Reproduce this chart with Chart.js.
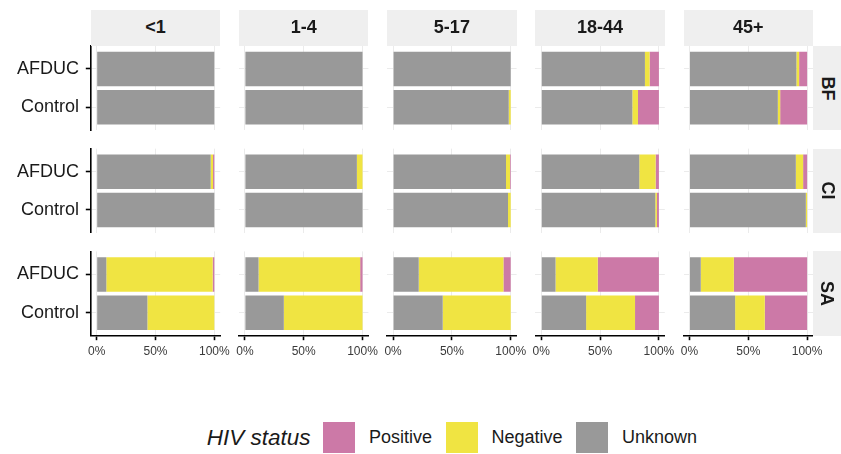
<!DOCTYPE html>
<html>
<head>
<meta charset="utf-8">
<script src="https://cdn.jsdelivr.net/npm/chart.js@4.4.1/dist/chart.umd.min.js"></script>
<style>
  html, body { margin:0; padding:0; background:#fff; }
  #wrap { position:relative; width:841px; height:454px; overflow:hidden; font-family:"Liberation Sans", Arial, Helvetica, sans-serif; }
  #wrap canvas { position:absolute; }
  .strip { position:absolute; background:#efefef; color:#1a1a1a; font-weight:bold; font-size:18px; display:flex; align-items:center; justify-content:center; z-index:2; }
  .strip.side span { display:block; transform:rotate(90deg); white-space:nowrap; }
  #legend { position:absolute; left:206.7px; top:422.3px; height:31px; display:flex; align-items:center; color:#1a1a1a; z-index:3; white-space:nowrap; }
  #legend .title { font-style:italic; font-size:22.5px; margin-right:12.5px; }
  #legend .key { width:32px; height:31px; margin-right:14px; flex:none; }
  #legend .lab { font-size:18px; margin-right:13.5px; }
</style>
</head>
<body>
<div id="wrap"></div>
<script>
// ---------------- DATA ----------------
const ageGroups = ['<1', '1-4', '5-17', '18-44', '45+'];
const countries = ['BF', 'CI', 'SA'];
const studyArms = ['AFDUC', 'Control'];
const stackOrder = ['Unknown', 'Negative', 'Positive'];   // left to right in each bar
const legendOrder = ['Positive', 'Negative', 'Unknown'];
const xTickValues = [0, 50, 100];

// Percentages, one pair per age group: [AFDUC, Control]
const bfUnknown  = [[100, 100], [100, 100], [100, 98.3], [88.1, 77.4], [90.9, 75.1]];
const bfNegative = [[0, 0],     [0, 0],     [0, 1.7],    [4.0, 4.8],   [2.3, 2.0]];
const bfPositive = [[0, 0],     [0, 0],     [0, 0],      [7.9, 17.8],  [6.8, 22.9]];

const ciUnknown  = [[96.9, 100], [95.2, 100], [96.0, 97.7], [83.3, 96.9], [90.4, 98.9]];
const ciNegative = [[2.0, 0],    [4.8, 0],    [3.4, 2.3],   [13.9, 1.4],  [6.2, 1.1]];
const ciPositive = [[1.1, 0],    [0, 0],      [0.6, 0],     [2.8, 1.7],   [3.4, 0]];

const saUnknown  = [[8.2, 43.1],  [11.6, 33.1], [21.8, 42.2], [12.1, 38.1], [9.6, 38.8]];
const saNegative = [[90.4, 56.9], [86.4, 66.9], [72.0, 57.8], [35.9, 41.6], [28.1, 25.2]];
const saPositive = [[1.4, 0],     [2.0, 0],     [6.2, 0],     [52.0, 20.3], [62.3, 36.0]];

const valuesByCountry = {
  BF: { Unknown: bfUnknown, Negative: bfNegative, Positive: bfPositive },
  CI: { Unknown: ciUnknown, Negative: ciNegative, Positive: ciPositive },
  SA: { Unknown: saUnknown, Negative: saNegative, Positive: saPositive }
};

// ---------------- STYLE / LAYOUT ----------------
const statusColors = { Positive: '#CC79A7', Negative: '#F0E442', Unknown: '#999999' };
const PANEL_LEFT0 = 90.8, PANEL_W = 129.4, PANEL_STEP_X = 148.2;
const PANEL_TOP0 = 45.9, PANEL_H = 84.3, PANEL_STEP_Y = 102.75;
const STRIP_TOP = 10;
const XAXIS_H = 26;
const M = 24;
const GRID = '#ebebeb';
const AXIS_W = 1.6;

Chart.defaults.font.family = '"Liberation Sans", Arial, Helvetica, sans-serif';

const wrap = document.getElementById('wrap');

countries.forEach((country, j) => {
  ageGroups.forEach((age, i) => {
    const pl = PANEL_LEFT0 + i * PANEL_STEP_X;
    const pt = PANEL_TOP0 + j * PANEL_STEP_Y;
    const isLeft = i === 0;
    const isBottom = j === countries.length - 1;

    const cl = isLeft ? 0 : Math.floor(pl - M);
    const cr = Math.ceil(pl + PANEL_W + M);
    const ct = Math.floor(pt - M);
    const xh = isBottom ? XAXIS_H : 0;
    const cb = Math.ceil(pt + PANEL_H + xh + M);

    const canvas = document.createElement('canvas');
    canvas.width = cr - cl;
    canvas.height = cb - ct;
    canvas.style.left = cl + 'px';
    canvas.style.top = ct + 'px';
    canvas.style.width = (cr - cl) + 'px';
    canvas.style.height = (cb - ct) + 'px';
    wrap.appendChild(canvas);

    const vals = valuesByCountry[country];

    new Chart(canvas, {
      type: 'bar',
      data: {
        datasets: stackOrder.map(status => ({
          label: status,
          data: studyArms.map((arm, k) => ({ x: vals[status][i][k], y: k + 1 })),
          backgroundColor: statusColors[status],
          borderWidth: 0,
          categoryPercentage: 1,
          barPercentage: 0.9
        }))
      },
      options: {
        indexAxis: 'y',
        responsive: false,
        animation: false,
        devicePixelRatio: 1,
        events: [],
        layout: {
          padding: {
            left: isLeft ? 0 : pl - cl,
            right: cr - (pl + PANEL_W),
            top: pt - ct,
            bottom: cb - (pt + PANEL_H) - xh
          }
        },
        plugins: { legend: { display: false }, tooltip: { enabled: false } },
        scales: {
          x: {
            type: 'linear', min: -5, max: 105, bounds: 'data', stacked: true, offset: false,
            afterBuildTicks: s => { s.ticks = xTickValues.map(v => ({ value: v })); },
            afterFit: s => { s.height = xh; },
            grid: { offset: false, color: GRID, lineWidth: 1, drawTicks: isBottom, tickLength: 4.5, tickColor: '#000', tickWidth: AXIS_W },
            border: { display: isBottom, color: '#000', width: AXIS_W },
            ticks: { display: isBottom, maxRotation: 0, minRotation: 0, autoSkip: false, padding: 4, color: '#3a3a3a',
                     font: { size: 12 }, callback: v => v + '%' }
          },
          y: {
            type: 'linear', min: 0.4, max: 2.6, reverse: true, bounds: 'data', stacked: true, offset: false,
            afterBuildTicks: s => { s.ticks = studyArms.map((a, k) => ({ value: k + 1 })); },
            afterFit: s => { s.width = isLeft ? pl : 0; },
            grid: { offset: false, color: GRID, lineWidth: 1, drawTicks: isLeft, tickLength: 5, tickColor: '#000', tickWidth: AXIS_W },
            border: { display: isLeft, color: '#000', width: AXIS_W },
            ticks: { display: isLeft, autoSkip: false, padding: 6.8, color: '#1a1a1a', font: { size: 18 },
                     callback: v => studyArms[Math.round(v) - 1] }
          }
        }
      }
    });
  });
});

// top strips (age groups)
ageGroups.forEach((age, i) => {
  const d = document.createElement('div');
  d.className = 'strip';
  d.style.left = (PANEL_LEFT0 + i * PANEL_STEP_X) + 'px';
  d.style.width = PANEL_W + 'px';
  d.style.top = STRIP_TOP + 'px';
  d.style.height = (PANEL_TOP0 - STRIP_TOP) + 'px';
  d.textContent = age;
  wrap.appendChild(d);
});

// right strips (countries)
countries.forEach((country, j) => {
  const d = document.createElement('div');
  d.className = 'strip side';
  const left = PANEL_LEFT0 + (ageGroups.length - 1) * PANEL_STEP_X + PANEL_W;
  d.style.left = left + 'px';
  d.style.width = (841 - left) + 'px';
  d.style.top = (PANEL_TOP0 + j * PANEL_STEP_Y) + 'px';
  d.style.height = PANEL_H + 'px';
  const s = document.createElement('span');
  s.textContent = country;
  d.appendChild(s);
  wrap.appendChild(d);
});

// legend
const lg = document.createElement('div');
lg.id = 'legend';
const t = document.createElement('span');
t.className = 'title';
t.textContent = 'HIV status';
lg.appendChild(t);
legendOrder.forEach(status => {
  const k = document.createElement('span');
  k.className = 'key';
  k.style.background = statusColors[status];
  lg.appendChild(k);
  const l = document.createElement('span');
  l.className = 'lab';
  l.textContent = status;
  lg.appendChild(l);
});
wrap.appendChild(lg);
</script>
</body>
</html>
